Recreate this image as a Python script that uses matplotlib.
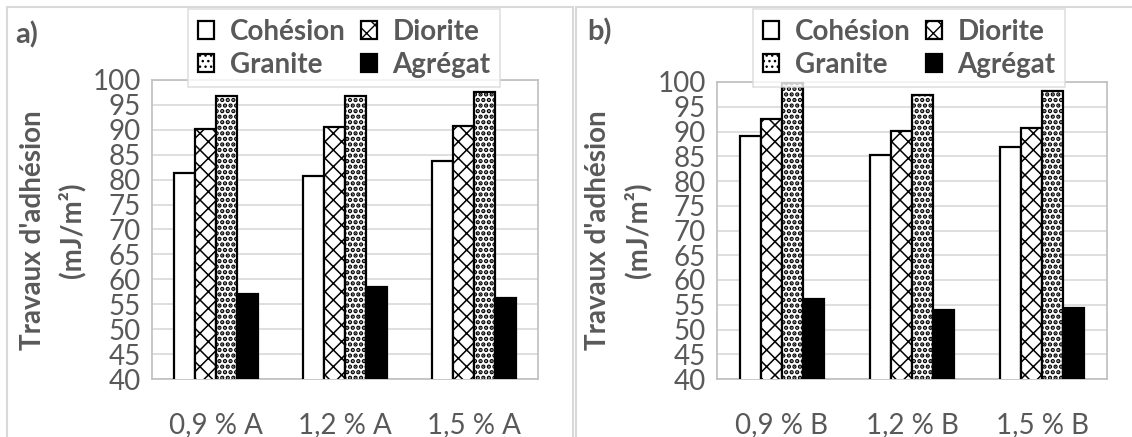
import numpy as np
import matplotlib
matplotlib.use("Agg")
import matplotlib.pyplot as plt
from matplotlib.patches import Rectangle

plt.rcParams['font.family'] = ['Lato', 'DejaVu Sans']
plt.rcParams['hatch.color'] = 'black'

series = ['Cohésion', 'Diorite', 'Granite', 'Agrégat']
cats_a = ['0,9 % A', '1,2 % A', '1,5 % A']
cats_b = ['0,9 % B', '1,2 % B', '1,5 % B']

cohesion_a = [81.4, 80.8, 83.8]
diorite_a = [90.1, 90.6, 90.7]
granite_a = [96.7, 96.8, 97.5]
agregat_a = [57.1, 58.5, 56.2]

cohesion_b = [89.0, 85.2, 86.9]
diorite_b = [92.5, 90.1, 90.8]
granite_b = [99.7, 97.4, 98.1]
agregat_b = [56.1, 54.0, 54.3]

yticks = list(range(40, 101, 5))

GREY = '#595959'
W, H = 1132, 437
styles = [dict(facecolor='white', hatch=None),
          dict(facecolor='white', hatch='xx'),
          dict(facecolor='white', hatch='...'),
          dict(facecolor='black', hatch=None)]
hatch_lw = [1.0, 1.1, 2.2, 1.0]


def px(x0, y0, x1, y1):
    # pixel box (top-left origin) -> figure fraction rect
    return [x0 / W, 1 - y1 / H, (x1 - x0) / W, (y1 - y0) / H]


def draw_panel(fig, rect, cats, data, tag, tag_xy, ylab_x, leg_box):
    ax = fig.add_axes(rect)
    x = np.arange(len(cats))
    bw = 0.163
    for i, vals in enumerate(data):
        with plt.rc_context({'hatch.linewidth': hatch_lw[i]}):
            ax.bar(x + (i - 1.5) * bw, vals, bw, bottom=0, edgecolor='black',
                   linewidth=1.6, label=series[i], **styles[i], zorder=3)
    ax.set_ylim(40, 100)
    ax.set_xlim(-0.5, len(cats) - 0.5)
    ax.set_yticks(yticks)
    ax.set_xticks(x)
    ax.set_xticklabels(cats)
    ax.tick_params(length=0, labelsize=20, colors=GREY, pad=8)
    ax.tick_params(axis='x', pad=24)
    ax.grid(axis='y', color='#d9d9d9', linewidth=1.2, zorder=0)
    for s in ax.spines.values():
        s.set_color('#bfbfbf')
        s.set_linewidth(1.2)
    fig.text(tag_xy[0] / W, 1 - tag_xy[1] / H, tag, fontsize=21,
             fontweight='bold', color=GREY, ha='left', va='center')
    fig.text(ylab_x[0] / W, 1 - 230 / H, "Travaux d'adhésion", rotation=90,
             fontsize=20, fontweight='bold', color=GREY, ha='center', va='center')
    fig.text(ylab_x[1] / W, 1 - 230 / H, "(mJ/m²)", rotation=90,
             fontsize=20, fontweight='bold', color=GREY, ha='center', va='center')
    h, l = ax.get_legend_handles_labels()
    order = [0, 2, 1, 3]
    leg = ax.legend([h[k] for k in order], [l[k] for k in order], ncol=2,
                    loc='upper left',
                    bbox_to_anchor=(leg_box[0] / W, 1 - leg_box[1] / H),
                    bbox_transform=fig.transFigure, frameon=True, fancybox=False,
                    edgecolor='#d9d9d9', prop=dict(size=20, weight='bold'),
                    handlelength=0.6, handleheight=0.6, handletextpad=0.55,
                    columnspacing=0.55, labelspacing=0.25, borderpad=0.35,
                    borderaxespad=0)
    leg.get_frame().set_linewidth(1.2)
    for t in leg.get_texts():
        t.set_color(GREY)
    return ax


fig = plt.figure(figsize=(W / 100, H / 100), dpi=100)

fig.patches.append(Rectangle((7 / W, -0.1), 566 / W, 1.1 - 7 / H, fill=False,
                             edgecolor='#d9d9d9', linewidth=1.5,
                             transform=fig.transFigure))
fig.patches.append(Rectangle((576 / W, -0.1), 600 / W, 1.1 - 7 / H, fill=False,
                             edgecolor='#d9d9d9', linewidth=1.5,
                             transform=fig.transFigure))

draw_panel(fig, px(152, 80, 538, 379), cats_a,
           [cohesion_a, diorite_a, granite_a, agregat_a],
           'a)', (15, 35), (33, 72), (188, 9))
draw_panel(fig, px(717, 82, 1107, 379), cats_b,
           [cohesion_b, diorite_b, granite_b, agregat_b],
           'b)', (587, 32), (598, 638), (753, 9))

fig.savefig('out.png', dpi=100)
